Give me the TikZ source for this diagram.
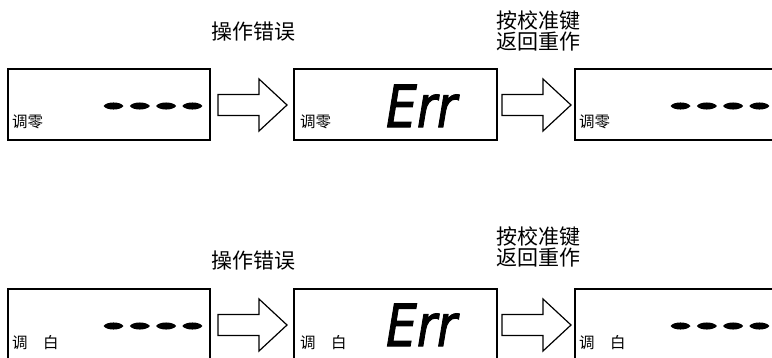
\documentclass[tikz,border=0pt]{standalone}
\usepackage{fontspec}
\newfontfamily\cjk{Noto Sans CJK SC}
\newfontfamily\errfont{DejaVu Sans}[FakeBold=1.8]
\usetikzlibrary{calc}
\tikzset{
  lcdbox/.style={draw, line width=2pt, fill=white, inner sep=0pt, outer sep=0pt, minimum height=71pt, anchor=north west},
  lowbox/.style={lcdbox, minimum height=76pt},
  heading/.style={font=\cjk\fontsize{21}{21}\selectfont, inner sep=0pt, align=center},
  boxlabel/.style={font=\cjk\fontsize{15.5}{15.5}\selectfont, inner sep=0pt, anchor=west},
  errtext/.style={font=\errfont\itshape\fontsize{58}{58}\selectfont, inner sep=0pt, anchor=base},
  blockarrow/.pic={\draw[line width=1.2pt, line join=miter, fill=white]
     (0,-10.5) -- (41,-10.5) -- (41,-26) -- (69,0) -- (41,26) -- (41,10.5) -- (0,10.5) -- cycle;},
  lcdseg/.pic={\fill (-10,0) .. controls (-7,-4.7) and (7,-4.7) .. (10,0)
     .. controls (7,4.7) and (-7,4.7) .. (-10,0) -- cycle;}
}
\begin{document}
\begin{tikzpicture}[x=1pt,y=-1pt]
\useasboundingbox (0,0) rectangle (772,357);
\clip (0,0) rectangle (772,357);
\fill[white] (0,0) rectangle (772,357);
% top row
\node[lcdbox, minimum width=202pt] (b1) at (8,69) {};
\node[lcdbox, minimum width=203pt] (b2) at (294,69) {};
\node[lcdbox, minimum width=210pt] (b3) at (575,69) {};
% bottom row
\node[lowbox, minimum width=202pt] (c1) at (8,289) {};
\node[lowbox, minimum width=203pt] (c2) at (294,289) {};
\node[lowbox, minimum width=210pt] (c3) at (575,289) {};
% arrows
\pic at ([xshift=8pt,yshift=-36pt]b1.north east) {blockarrow};
\pic at ([xshift=5pt,yshift=-36pt]b2.north east) {blockarrow};
\pic at ([xshift=8pt,yshift=-36pt]c1.north east) {blockarrow};
\pic at ([xshift=5pt,yshift=-36pt]c2.north east) {blockarrow};
% headings
\node[heading] (t1) at (253.5,32) {操作错误};
\node[heading] (t2) at (538.5,30.5) {按校准键\\返回重作};
\node[heading] (t3) at (253.5,261) {操作错误};
\node[heading] (t4) at (538.5,246.5) {按校准键\\返回重作};
% labels
\node[boxlabel] (l1) at ([xshift=4pt,yshift=-53pt]b1.north west) {调零};
\node[boxlabel] (l2) at ([xshift=6pt,yshift=-53pt]b2.north west) {调零};
\node[boxlabel] (l3) at ([xshift=4pt,yshift=-53pt]b3.north west) {调零};
\node[boxlabel] (m1) at ([xshift=4pt,yshift=-54pt]c1.north west) {调　白};
\node[boxlabel] (m2) at ([xshift=6pt,yshift=-54pt]c2.north west) {调　白};
\node[boxlabel] (m3) at ([xshift=4pt,yshift=-54pt]c3.north west) {调　白};
% dashes
\foreach \b in {b1,b3,c1,c3}
  \foreach \i in {0,...,3}
    \pic at ([xshift={105.5pt+26.3pt*\i},yshift=-37pt]\b.north west) {lcdseg};
% Err
\node[errtext] (e1) at ([xshift=127.5pt,yshift=-58pt]b2.north west) {\scalebox{0.84}[1]{Err}};
\node[errtext] (e2) at ([xshift=127.5pt,yshift=-57pt]c2.north west) {\scalebox{0.84}[1]{Err}};
\end{tikzpicture}
\end{document}
